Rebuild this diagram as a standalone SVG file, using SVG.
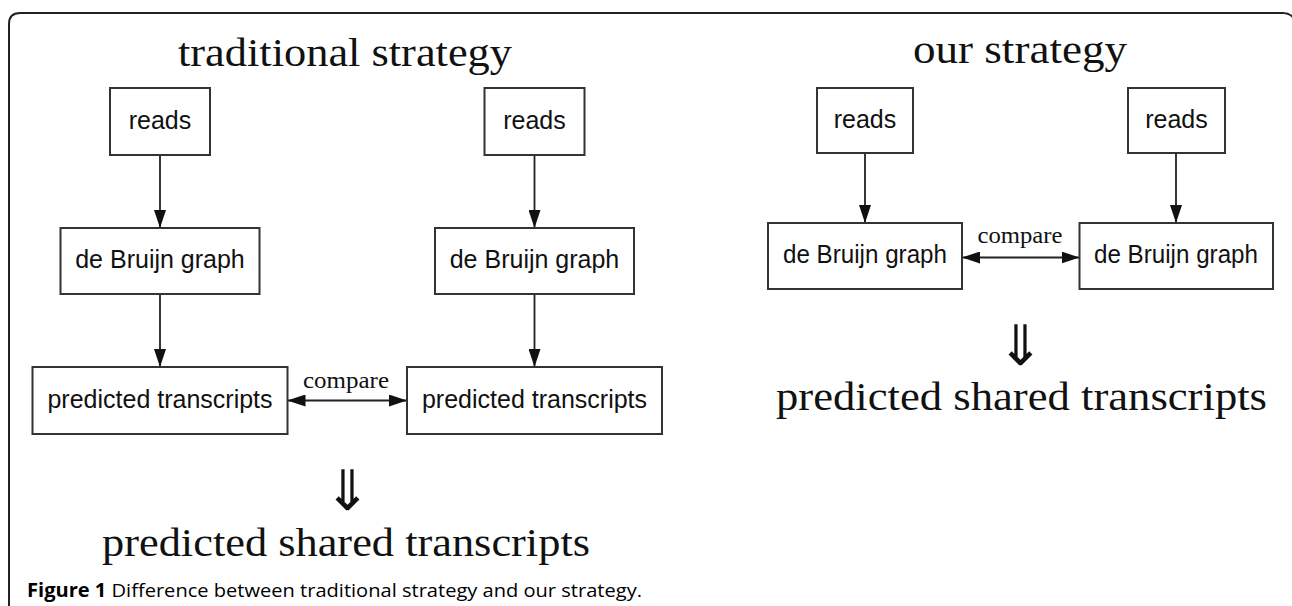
<svg xmlns="http://www.w3.org/2000/svg" width="1292" height="606" viewBox="0 0 1292 606">
<style>
.box{fill:#fff;stroke:#333;stroke-width:2}
.lbl{font-family:"Liberation Sans",Arial,sans-serif;font-size:25px;fill:#111;text-anchor:middle}
.ttl{font-family:"Liberation Serif","Times New Roman",serif;font-size:40px;fill:#111;text-anchor:middle}
.cmp{font-family:"Liberation Serif","Times New Roman",serif;font-size:23px;fill:#111;text-anchor:middle}
.dar{font-family:"Noto Sans CJK JP","DejaVu Sans",sans-serif;font-size:56px;font-weight:300;fill:#111;text-anchor:middle}
.edge{stroke:#222;stroke-width:1.8;fill:none}
.cap{font-family:"Open Sans","Liberation Sans",sans-serif;font-size:19px;fill:#000}
</style>
<defs>
<marker id="ah" markerWidth="18" markerHeight="12" refX="18" refY="6" orient="auto-start-reverse" markerUnits="userSpaceOnUse">
<path d="M0,0 L18,6 L0,12 z" fill="#111"/>
</marker>
</defs>
<rect width="1292" height="606" fill="#fff"/>
<path d="M9,606 L9,24 Q9,13 20,13 L1283,13 Q1292,13 1296,22" fill="none" stroke="#222" stroke-width="2"/>

<text class="ttl" x="345" y="66" textLength="334" lengthAdjust="spacingAndGlyphs">traditional strategy</text>
<text class="ttl" x="1020" y="63" textLength="214" lengthAdjust="spacingAndGlyphs">our strategy</text>

<g id="connectors">
<line class="edge" x1="160" y1="155" x2="160" y2="228" marker-end="url(#ah)"/>
<line class="edge" x1="160" y1="294" x2="160" y2="367" marker-end="url(#ah)"/>
<line class="edge" x1="534.5" y1="155" x2="534.5" y2="228" marker-end="url(#ah)"/>
<line class="edge" x1="534.5" y1="294" x2="534.5" y2="367" marker-end="url(#ah)"/>
<line class="edge" x1="287.5" y1="400.5" x2="407" y2="400.5" marker-start="url(#ah)" marker-end="url(#ah)"/>
<text class="cmp" x="346" y="388" textLength="86" lengthAdjust="spacingAndGlyphs">compare</text>
<line class="edge" x1="865" y1="153" x2="865" y2="223" marker-end="url(#ah)"/>
<line class="edge" x1="1176" y1="153" x2="1176" y2="223" marker-end="url(#ah)"/>
<line class="edge" x1="962" y1="257.5" x2="1079.5" y2="257.5" marker-start="url(#ah)" marker-end="url(#ah)"/>
<text class="cmp" x="1020" y="243" textLength="85" lengthAdjust="spacingAndGlyphs">compare</text>
</g>

<g id="t-reads-1"><rect class="box" x="110" y="88" width="100" height="67"/><text class="lbl" x="160" y="129">reads</text></g>
<g id="t-reads-2"><rect class="box" x="484.5" y="88" width="100" height="67"/><text class="lbl" x="534.5" y="129">reads</text></g>
<g id="t-dbg-1"><rect class="box" x="60.5" y="228" width="199" height="66"/><text class="lbl" x="160" y="268">de Bruijn graph</text></g>
<g id="t-dbg-2"><rect class="box" x="435" y="228" width="199" height="66"/><text class="lbl" x="534.5" y="268">de Bruijn graph</text></g>
<g id="t-pred-1"><rect class="box" x="32.5" y="367" width="255" height="67"/><text class="lbl" x="160" y="408">predicted transcripts</text></g>
<g id="t-pred-2"><rect class="box" x="407" y="367" width="255" height="67"/><text class="lbl" x="534.5" y="408">predicted transcripts</text></g>
<g id="t-result"><text class="dar" x="347" y="510">⇓</text><text class="ttl" x="346" y="556" textLength="488" lengthAdjust="spacingAndGlyphs">predicted shared transcripts</text></g>

<g id="o-reads-1"><rect class="box" x="817" y="88" width="96" height="65"/><text class="lbl" x="865" y="128">reads</text></g>
<g id="o-reads-2"><rect class="box" x="1128" y="88" width="97" height="65"/><text class="lbl" x="1176.5" y="128">reads</text></g>
<g id="o-dbg-1"><rect class="box" x="768" y="223" width="194" height="66"/><text class="lbl" x="865" y="263" textLength="164" lengthAdjust="spacingAndGlyphs">de Bruijn graph</text></g>
<g id="o-dbg-2"><rect class="box" x="1079.5" y="223" width="193.5" height="66"/><text class="lbl" x="1176" y="263" textLength="164" lengthAdjust="spacingAndGlyphs">de Bruijn graph</text></g>
<g id="o-result"><text class="dar" x="1020" y="365">⇓</text><text class="ttl" x="1021.5" y="410" textLength="491" lengthAdjust="spacingAndGlyphs">predicted shared transcripts</text></g>

<text class="cap" x="27" y="597" textLength="615" lengthAdjust="spacingAndGlyphs"><tspan font-weight="bold">Figure 1</tspan> Difference between traditional strategy and our strategy.</text>
</svg>
